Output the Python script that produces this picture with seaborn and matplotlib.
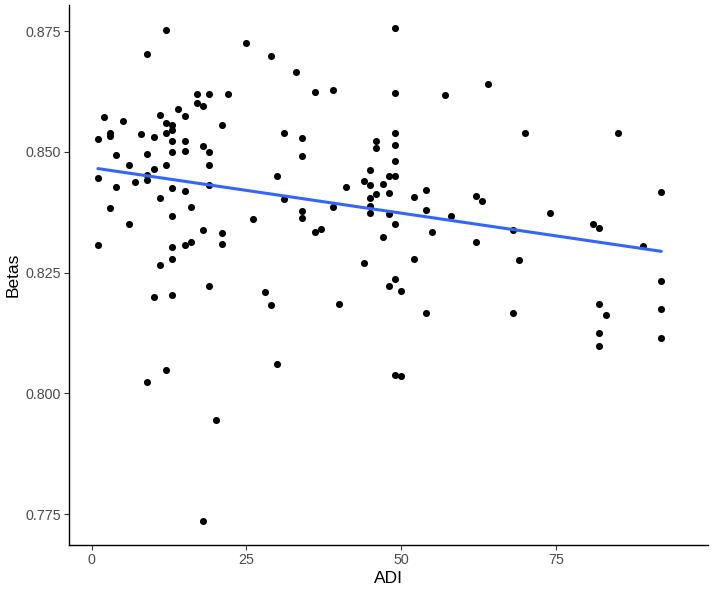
import matplotlib
matplotlib.use("Agg")
import matplotlib.pyplot as plt
import numpy as np
import pandas as pd
import seaborn as sns

# ADI value for each sample, and its beta value
adi = [1, 1, 1, 2, 3, 3, 3, 4, 4, 5, 6, 6, 7, 8,
       9, 9, 9, 9, 9, 10, 10, 10, 11, 11, 11,
       12, 12, 12, 12, 12,
       13, 13, 13, 13, 13, 13, 13, 13, 13, 14,
       15, 15, 15, 15, 15, 16, 16, 17, 17,
       18, 18, 18, 18, 19, 19, 19, 19, 19, 20,
       21, 21, 21, 22, 25, 26, 28, 29, 29, 30, 30, 31, 31, 33,
       34, 34, 34, 34, 36, 36, 37, 39, 39, 40, 41, 44, 44,
       45, 45, 45, 45, 45, 46, 46, 46, 47, 47, 48, 48, 48, 48,
       49, 49, 49, 49, 49, 49, 49, 49, 49, 50, 50, 52, 52,
       54, 54, 54, 55, 57, 58, 62, 62, 63, 64, 68, 68, 69, 70, 74,
       81, 82, 82, 82, 82, 83, 85, 89, 92, 92, 92, 92]
betas = [0.8526, 0.8445, 0.8307, 0.8573, 0.8539, 0.8533, 0.8384, 0.8493, 0.8427,
         0.8564, 0.8473, 0.8351, 0.8437, 0.8536,
         0.8702, 0.8495, 0.8452, 0.8442, 0.8023, 0.8530, 0.8464, 0.8199,
         0.8576, 0.8404, 0.8265,
         0.8753, 0.8559, 0.8539, 0.8473, 0.8048,
         0.8555, 0.8546, 0.8523, 0.8500, 0.8426, 0.8368, 0.8302, 0.8278, 0.8204,
         0.8588,
         0.8574, 0.8522, 0.8502, 0.8418, 0.8308, 0.8386, 0.8313, 0.8620, 0.8602,
         0.8595, 0.8513, 0.8339, 0.7735, 0.8620, 0.8500, 0.8473, 0.8431, 0.8223,
         0.7945,
         0.8556, 0.8332, 0.8310, 0.8620, 0.8725, 0.8361, 0.8209, 0.8699, 0.8182,
         0.8450, 0.8061, 0.8540, 0.8402, 0.8665,
         0.8528, 0.8492, 0.8378, 0.8364, 0.8624, 0.8334, 0.8341, 0.8629, 0.8385,
         0.8185, 0.8428, 0.8440, 0.8270,
         0.8463, 0.8431, 0.8404, 0.8388, 0.8373, 0.8522, 0.8508, 0.8412,
         0.8433, 0.8323, 0.8450, 0.8415, 0.8371, 0.8222,
         0.8756, 0.8622, 0.8538, 0.8515, 0.8482, 0.8449, 0.8350, 0.8237, 0.8037,
         0.8212, 0.8035, 0.8407, 0.8278,
         0.8420, 0.8380, 0.8166, 0.8335, 0.8618, 0.8368, 0.8408, 0.8313, 0.8398,
         0.8640, 0.8338, 0.8166, 0.8277, 0.8540, 0.8374,
         0.8350, 0.8343, 0.8185, 0.8125, 0.8099, 0.8163, 0.8540, 0.8306,
         0.8417, 0.8232, 0.8174, 0.8114]

x_ticks = [0, 25, 50, 75]
y_ticks = [0.775, 0.800, 0.825, 0.850, 0.875]

df = pd.DataFrame({"ADI": adi, "Betas": betas})

sns.set_style("ticks")
plt.rcParams["font.family"] = ["Liberation Sans", "DejaVu Sans"]

fig = plt.figure(figsize=(7.14, 5.9), dpi=100)
ax = fig.add_axes([69 / 714, 1 - 545 / 590, 639 / 714, 540 / 590])

sns.regplot(data=df, x="ADI", y="Betas", ci=None, ax=ax,
            scatter_kws=dict(s=26, color="black", linewidths=0, alpha=1),
            line_kws=dict(color="#3366FF", lw=2.2))

ax.set_xlim(-3.67, 99.55)
ax.set_ylim(0.7686, 0.8804)
ax.set_xticks(x_ticks)
ax.set_yticks(y_ticks)
ax.set_yticklabels([f"{v:.3f}" for v in y_ticks])

for side in ["top", "right"]:
    ax.spines[side].set_visible(False)
for side in ["left", "bottom"]:
    ax.spines[side].set_color("black")
    ax.spines[side].set_linewidth(1.0)

ax.tick_params(axis="both", length=3.5, width=0.8, color="#333333",
               labelcolor="#4D4D4D", labelsize=10.3, pad=2)
ax.set_xlabel("ADI", fontsize=12.5, color="black", labelpad=3)
ax.set_ylabel("Betas", fontsize=12.5, color="black", labelpad=4)

fig.savefig("out.png", dpi=100)
